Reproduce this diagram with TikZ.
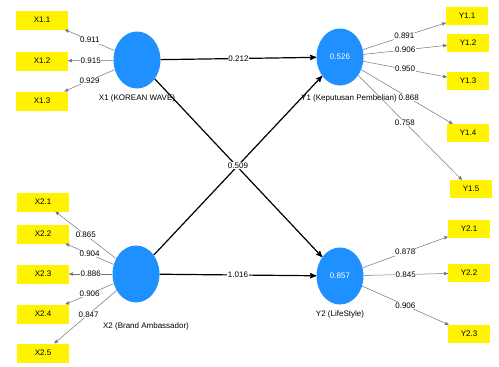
\documentclass[tikz,border=0pt]{standalone}
\usepackage{fontspec}
\setmainfont{Liberation Sans}
\usetikzlibrary{arrows, shapes.geometric, positioning}
\definecolor{lvblue}{RGB}{30,144,255}
\definecolor{mvyellow}{RGB}{255,243,0}
\tikzset{
  latent/.style={ellipse, fill=lvblue, minimum width=47pt, minimum height=57pt, inner sep=0pt, text=white},
  xind/.style={rectangle, fill=mvyellow, minimum width=52pt, minimum height=19pt, inner sep=0pt},
  yind/.style={rectangle, fill=mvyellow, minimum width=42pt, minimum height=18pt, inner sep=0pt},
  outer/.style={draw=black!55, line width=0.5pt},
  inner/.style={draw=black, line width=1.2pt},
  lbl/.style={fill=white, inner sep=0.6pt}
}

\begin{document}
\begin{tikzpicture}[->,>=stealth', x=1pt, y=-1pt, font=\fontsize{8}{9}\selectfont]
\useasboundingbox (0,0) rectangle (499,367);
% latent variables
\node[latent] (x1) at (137,60) {};
\node[latent] (y1) at (340,57) {0.526};
\node[latent] (x2) at (136,274) {};
\node[latent] (y2) at (340,276) {0.857};
\node (x1lab) [below=2pt of x1] {X1 (KOREAN WAVE)};
\node (y1lab) at (349,98) {Y1 (Keputusan Pembelian)};
\node (x2lab) at (146,326) {X2 (Brand Ambassador)};
\node (y2lab) [below=2pt of y2] {Y2 (LifeStyle)};
% indicators
\node[xind] (x11) at (42,20) {X1.1};
\node[xind] (x12) at (42,61) {X1.2};
\node[xind] (x13) at (42,101) {X1.3};
\node[xind] (x21) at (43,202) {X2.1};
\node[xind] (x22) at (43,234) {X2.2};
\node[xind] (x23) at (43,274) {X2.3};
\node[xind] (x24) at (43,314) {X2.4};
\node[xind] (x25) at (43,353) {X2.5};
\node[yind] (y11) at (467,16) {Y1.1};
\node[yind] (y12) at (468,43) {Y1.2};
\node[yind] (y13) at (468,81) {Y1.3};
\node[yind] (y14) at (468,133) {Y1.4};
\node[yind] (y15) at (471,189) {Y1.5};
\node[yind] (y21) at (469,229) {Y2.1};
\node[yind] (y22) at (469,273) {Y2.2};
\node[yind] (y23) at (469,334) {Y2.3};
% outer loadings
\path (x1) edge [outer] node [lbl] {0.911} (x11);
\path (x1) edge [outer] node [lbl] {0.915} (x12);
\path (x1) edge [outer] node [lbl] {0.929} (x13);
\path (x2) edge [outer] node [lbl] {0.865} (x21);
\path (x2) edge [outer] node [lbl] {0.904} (x22);
\path (x2) edge [outer] node [lbl] {0.886} (x23);
\path (x2) edge [outer] node [lbl] {0.906} (x24);
\path (x2) edge [outer] node [lbl, pos=.45] {0.847} (x25);
\path (y1) edge [outer] node [lbl] {0.891} (y11);
\path (y1) edge [outer] node [lbl] {0.906} (y12);
\path (y1) edge [outer] node [lbl] {0.950} (y13);
\path (y1) edge [outer] node [lbl, pos=.52] {0.868} (y14);
\path (y1) edge [outer] node [lbl, pos=.45] {0.758} (y15);
\path (y2) edge [outer] node [lbl] {0.878} (y21);
\path (y2) edge [outer] node [lbl] {0.845} (y22);
\path (y2) edge [outer] node [lbl] {0.906} (y23);
% inner model
\path (x1) edge [inner] node [lbl] {0.212} (y1);
\path (x1) edge [inner] (y2);
\path (x2) edge [inner] node [lbl] {0.509} (y1);
\path (x2) edge [inner] node [lbl] {1.016} (y2);
\end{tikzpicture}
\end{document}
